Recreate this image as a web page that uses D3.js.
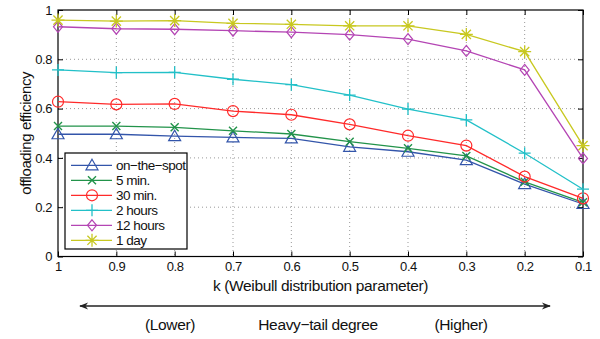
<!DOCTYPE html>
<html><head><meta charset="utf-8">
<script src="https://cdn.jsdelivr.net/npm/d3@7"></script>
<style>
body{margin:0;background:#fff;}
text{font-family:"Liberation Sans",Arial,sans-serif;fill:#111;}
</style></head>
<body><svg id="c" width="600" height="339"></svg>
<script>
const kValues = [1,0.9,0.8,0.7,0.6,0.5,0.4,0.3,0.2,0.1];
const xTickLabels = ["1","0.9","0.8","0.7","0.6","0.5","0.4","0.3","0.2","0.1"];
const yTicks = [0,0.2,0.4,0.6,0.8,1];
const yTickLabels = ["0","0.2","0.4","0.6","0.8","1"];
const seriesNames = ["on\u2212the\u2212spot","5 min.","30 min.","2 hours","12 hours","1 day"];
const onTheSpot = [0.496,0.496,0.488,0.483,0.479,0.445,0.425,0.391,0.294,0.213];
const fiveMin   = [0.529,0.529,0.524,0.510,0.497,0.466,0.439,0.408,0.303,0.220];
const thirtyMin = [0.628,0.617,0.619,0.590,0.575,0.536,0.490,0.450,0.324,0.236];
const twoHours  = [0.757,0.746,0.747,0.719,0.697,0.655,0.598,0.554,0.419,0.273];
const twelveHours=[0.932,0.924,0.922,0.916,0.910,0.900,0.882,0.834,0.757,0.398];
const oneDay    = [0.959,0.955,0.957,0.946,0.942,0.936,0.936,0.901,0.831,0.450];
const seriesValues = [onTheSpot,fiveMin,thirtyMin,twoHours,twelveHours,oneDay];
const colors = ["#3355aa","#22934a","#ff2a2a","#22c0c8","#b445b4","#c8c820"];
const markers = ["triangle","x","circle","plus","diamond","star"];

const svg = d3.select("#c");
const L=58,R=583,T=10,B=256.5;
const x = d3.scaleLinear().domain([1,0.1]).range([L,R]);
const y = d3.scaleLinear().domain([0,1]).range([B,T]);

// grid
const g = svg.append("g");
g.selectAll(".gx").data(kValues.slice(1,-1)).enter().append("line")
 .attr("x1",d=>x(d)).attr("x2",d=>x(d)).attr("y1",T).attr("y2",B)
 .attr("stroke","#999").attr("stroke-width",1).attr("stroke-dasharray","1,3");
g.selectAll(".gy").data(yTicks.slice(1,-1)).enter().append("line")
 .attr("x1",L).attr("x2",R).attr("y1",d=>y(d)).attr("y2",d=>y(d))
 .attr("stroke","#999").attr("stroke-width",1).attr("stroke-dasharray","1,3");

// axes
svg.append("g").attr("transform",`translate(0,${B})`)
 .call(d3.axisBottom(x).tickValues(kValues).tickFormat((d,i)=>xTickLabels[i]).tickSizeInner(-5).tickSizeOuter(0).tickPadding(5));
svg.append("g").attr("transform",`translate(0,${T})`)
 .call(d3.axisTop(x).tickValues(kValues).tickFormat("").tickSizeInner(-5).tickSizeOuter(0));
svg.append("g").attr("transform",`translate(${L},0)`)
 .call(d3.axisLeft(y).tickValues(yTicks).tickFormat((d,i)=>yTickLabels[i]).tickSizeInner(-5).tickSizeOuter(0).tickPadding(6));
svg.append("g").attr("transform",`translate(${R},0)`)
 .call(d3.axisRight(y).tickValues(yTicks).tickFormat("").tickSizeInner(-5).tickSizeOuter(0));
svg.selectAll(".domain").remove();
svg.selectAll(".tick line").attr("stroke","#000");
svg.selectAll(".tick text").attr("font-size",13).attr("font-family","Liberation Sans, Arial, sans-serif").attr("fill","#111").attr("letter-spacing","-0.4");
svg.append("rect").attr("x",L).attr("y",T).attr("width",R-L).attr("height",B-T)
 .attr("fill","none").attr("stroke","#000").attr("stroke-width",1.2);

function drawMarker(s,type,color){
  if(type==="triangle"){
    s.append("path").attr("d","M0,-6L6,4.5L-6,4.5Z").attr("fill","none").attr("stroke",color).attr("stroke-width",1.2);
  } else if(type==="x"){
    s.append("path").attr("d","M-4,-4L4,4M-4,4L4,-4").attr("stroke",color).attr("stroke-width",1.4);
  } else if(type==="circle"){
    s.append("circle").attr("r",5.5).attr("fill","none").attr("stroke",color).attr("stroke-width",1.2);
  } else if(type==="plus"){
    s.append("path").attr("d","M-6,0L6,0M0,-6L0,6").attr("stroke",color).attr("stroke-width",1.3);
  } else if(type==="diamond"){
    s.append("path").attr("d","M0,-5.5L4.5,0L0,5.5L-4.5,0Z").attr("fill","none").attr("stroke",color).attr("stroke-width",1.2);
  } else if(type==="star"){
    s.append("path").attr("d","M-6.5,0L6.5,0M0,-6.5L0,6.5M-4.6,-4.6L4.6,4.6M-4.6,4.6L4.6,-4.6").attr("stroke",color).attr("stroke-width",1.3);
  }
}

const line = d3.line().x((d,i)=>x(kValues[i])).y(d=>y(d));
seriesValues.forEach((vals,si)=>{
  svg.append("path").datum(vals).attr("d",line).attr("fill","none")
   .attr("stroke",colors[si]).attr("stroke-width",1.3);
  vals.forEach((v,i)=>{
    const m = svg.append("g").attr("transform",`translate(${x(kValues[i])},${y(v)})`);
    drawMarker(m,markers[si],colors[si]);
  });
});

// legend
const lg = svg.append("g");
lg.append("rect").attr("x",65).attr("y",153).attr("width",122).attr("height",96)
 .attr("fill","#fff").attr("stroke","#000").attr("stroke-width",1.2);
seriesNames.forEach((name,i)=>{
  const yy = 165.3 + i*15;
  lg.append("line").attr("x1",71).attr("x2",112).attr("y1",yy).attr("y2",yy)
   .attr("stroke",colors[i]).attr("stroke-width",1.3);
  const m = lg.append("g").attr("transform",`translate(92,${yy})`);
  drawMarker(m,markers[i],colors[i]);
  lg.append("text").attr("x",116).attr("y",yy).attr("dy","0.35em")
   .attr("font-size",13.5).attr("letter-spacing","-0.5").text(name);
});

// axis labels
svg.append("text").attr("transform",`translate(26,${(T+B)/2}) rotate(-90)`)
 .attr("text-anchor","middle").attr("dy","0.35em").attr("font-size",15).attr("letter-spacing","-0.4")
 .text("offloading efficiency");
svg.append("text").attr("x",(L+R)/2).attr("y",286).attr("dy","0.35em")
 .attr("text-anchor","middle").attr("font-size",15.5).attr("letter-spacing","-0.35")
 .text("k (Weibull distribution parameter)");

// arrow
svg.append("defs").html('<marker id="ah" viewBox="0 0 10 10" refX="9" refY="5" markerWidth="14" markerHeight="9" orient="auto-start-reverse" markerUnits="userSpaceOnUse"><path d="M0,1L10,5L0,9L3,5Z" fill="#222"/></marker>');
svg.append("line").attr("x1",80).attr("x2",550).attr("y1",306).attr("y2",306)
 .attr("stroke","#222").attr("stroke-width",1.3)
 .attr("marker-start","url(#ah)").attr("marker-end","url(#ah)");
[["(Lower)",170],["Heavy\u2212tail degree",318],["(Higher)",461]].forEach(([t,xx])=>{
  svg.append("text").attr("x",xx).attr("y",325).attr("dy","0.35em").attr("text-anchor","middle")
   .attr("font-size",15.5).attr("letter-spacing","-0.35").text(t);
});
</script></body></html>
